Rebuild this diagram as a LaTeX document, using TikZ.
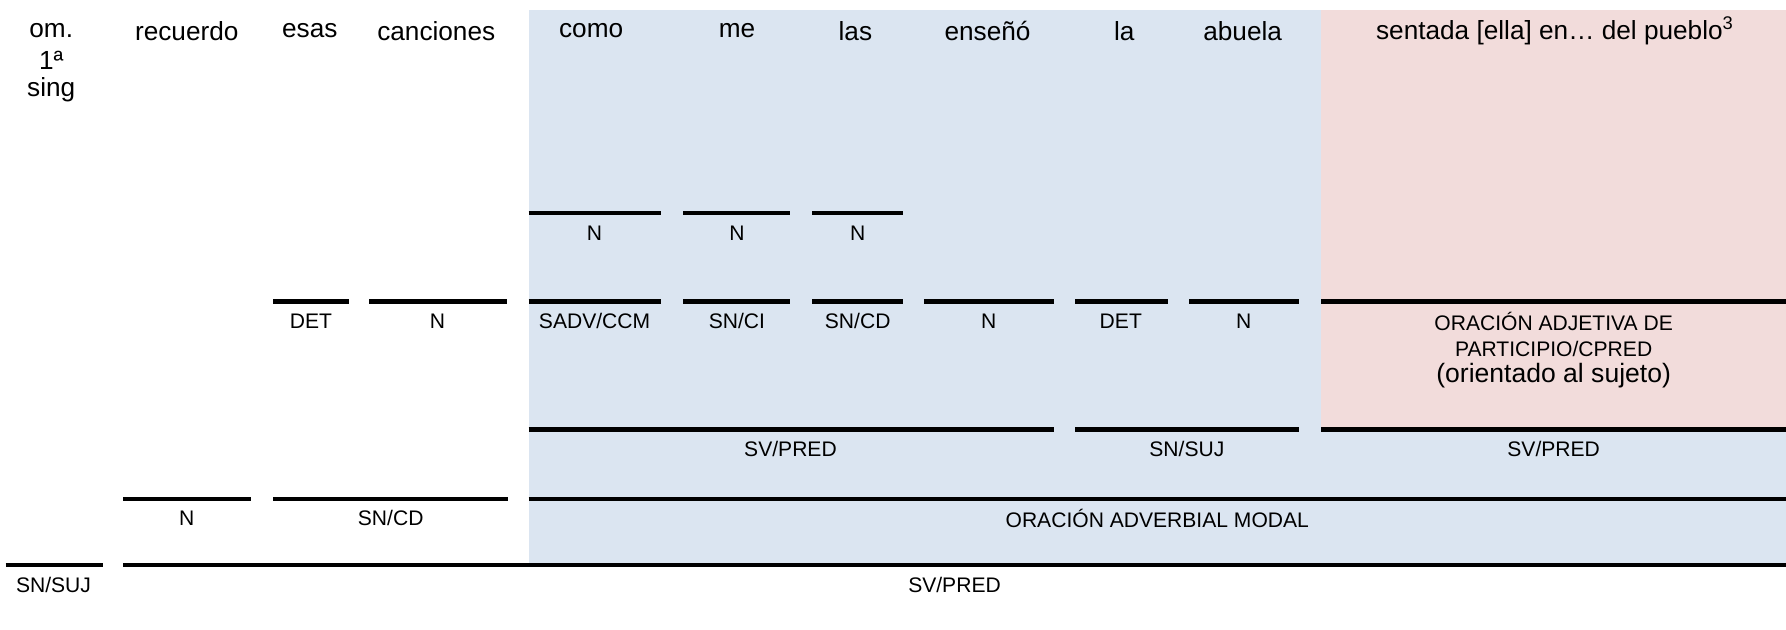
\documentclass[tikz,border=0pt]{standalone}
\usepackage{fontspec}
\setmainfont{Liberation Sans}
\definecolor{blueb}{HTML}{DBE5F1}
\definecolor{pinkb}{HTML}{F2DCDB}
\begin{document}
\begin{tikzpicture}[x=1pt,y=-1pt,
  barline/.style={line width=4.2pt},
  lab/.style={font=\fontsize{18.5}{24}\selectfont, inner sep=0pt, align=center},
  biglab/.style={font=\fontsize{23.3}{26}\selectfont, inner sep=0pt},
  word/.style={font=\fontsize{23}{30.5}\selectfont, inner sep=0pt, align=center}]
\useasboundingbox (0,0) rectangle (1568,553);
% shaded regions
\fill[blueb] (464,9) rectangle (1160,496);
\fill[pinkb] (1160,9) rectangle (1568,377);
\fill[blueb] (1160,377) rectangle (1568,496);
% words
\node[word] (w0) at (45,27) {om.};
\node[word] (w0b) at (45,53) {1ª};
\node[word] (w0c) at (45,79) {sing};
\node[word] (w1) at (164,27) {recuerdo};
\node[word] (w2) at (272,27) {esas};
\node[word] (w3) at (383,27) {canciones};
\node[word] (w4) at (519,27) {como};
\node[word] (w5) at (647,27) {me};
\node[word] (w6) at (751,27) {las};
\node[word] (w7) at (867,27) {enseñó};
\node[word] (w8) at (987,27) {la};
\node[word] (w9) at (1091,27) {abuela};
\node[word] (w10) at (1365,27) {sentada [ella] en… del pueblo\textsuperscript{3}};
% level 1
\draw[barline] (464,187) coordinate (a1) -- (580,187) coordinate (a2);
\draw[barline] (600,187) coordinate (a3) -- (694,187) coordinate (a4);
\draw[barline] (713,187) coordinate (a5) -- (793,187) coordinate (a6);
\node[lab] (l1a) at (522,205) {N};
\node[lab] (l1b) at (647,205) {N};
\node[lab] (l1c) at (753,205) {N};
% level 2
\draw[barline] (240,265) coordinate (b1) -- (306,265) coordinate (b2);
\draw[barline] (324,265) coordinate (b3) -- (445,265) coordinate (b4);
\draw[barline] (464,265) coordinate (b5) -- (580,265) coordinate (b6);
\draw[barline] (600,265) coordinate (b7) -- (694,265) coordinate (b8);
\draw[barline] (713,265) coordinate (b9) -- (793,265) coordinate (b10);
\draw[barline] (811,265) coordinate (b11) -- (925,265) coordinate (b12);
\draw[barline] (944,265) coordinate (b13) -- (1025,265) coordinate (b14);
\draw[barline] (1044,265) coordinate (b15) -- (1140,265) coordinate (b16);
\draw[barline] (1160,265) coordinate (b17) -- (1568,265) coordinate (b18);
\node[lab] (l2a) at (273,282) {DET};
\node[lab] (l2b) at (384,282) {N};
\node[lab] (l2c) at (522,282) {SADV/CCM};
\node[lab] (l2d) at (647,282) {SN/CI};
\node[lab] (l2e) at (753,282) {SN/CD};
\node[lab] (l2f) at (868,282) {N};
\node[lab] (l2g) at (984,282) {DET};
\node[lab] (l2h) at (1092,282) {N};
\node[lab] (l2i) at (1364,282) {ORACIÓN ADJETIVA DE};
\node[lab] (l2k) at (1364,306) {PARTICIPIO/CPRED};
\node[biglab] (l2j) at (1364,330) {(orientado al sujeto)};
% level 3
\draw[barline] (464,377) coordinate (c1) -- (925,377) coordinate (c2);
\draw[barline] (944,377) coordinate (c3) -- (1140,377) coordinate (c4);
\draw[barline] (1160,377) coordinate (c5) -- (1568,377) coordinate (c6);
\node[lab] (l3a) at (694,394) {SV/PRED};
\node[lab] (l3b) at (1042,394) {SN/SUJ};
\node[lab] (l3c) at (1364,394) {SV/PRED};
% level 4
\draw[barline] (108,438) coordinate (d1) -- (220,438) coordinate (d2);
\draw[barline] (240,438) coordinate (d3) -- (446,438) coordinate (d4);
\draw[barline] (464,438) coordinate (d5) -- (1568,438) coordinate (d6);
\node[lab] (l4a) at (164,455) {N};
\node[lab] (l4b) at (343,455) {SN/CD};
\node[lab] (l4c) at (1016,455) {ORACIÓN ADVERBIAL MODAL};
% level 5
\draw[barline] (5,496) coordinate (e1) -- (90,496) coordinate (e2);
\draw[barline] (108,496) coordinate (e3) -- (1568,496) coordinate (e4);
\node[lab] (l5a) at (47,514) {SN/SUJ};
\node[lab] (l5b) at (838,514) {SV/PRED};
\end{tikzpicture}
\end{document}
